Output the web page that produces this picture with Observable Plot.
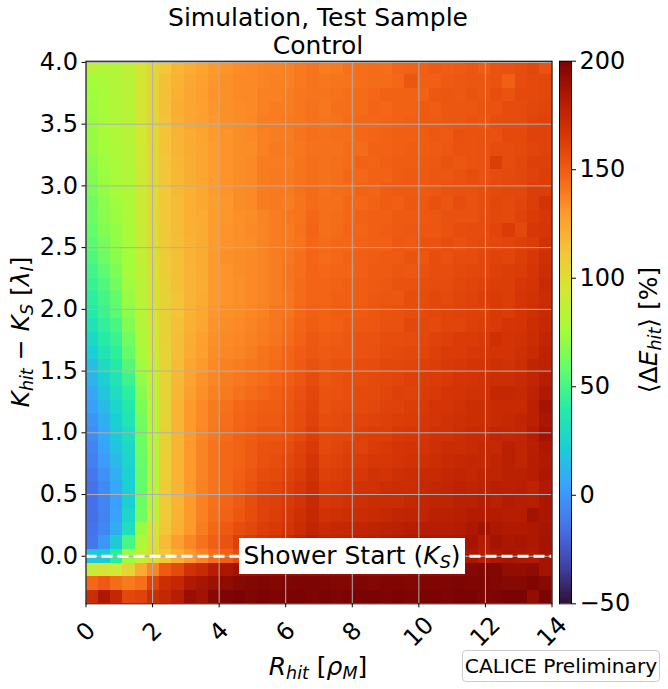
<!DOCTYPE html>
<html>
<head>
<meta charset="utf-8">
<script src="https://cdn.jsdelivr.net/npm/d3@7"></script>
<script src="https://cdn.jsdelivr.net/npm/@observablehq/plot@0.6"></script>
<style>
html,body{margin:0;padding:0;background:#fff;overflow:hidden}
#wrap{position:relative;width:668px;height:689px;font-family:"DejaVu Sans",sans-serif;color:#000}
#wrap svg{position:absolute;top:0;background:transparent;font-family:"DejaVu Sans",sans-serif}
.t{position:absolute;white-space:nowrap;line-height:1}
.t sub{font-size:70%;line-height:0;vertical-align:-0.25em}
</style>
</head>
<body>
<div id="wrap"></div>
<script>
// Mean relative energy difference per cell, rows from top (K = 4.0) to bottom (K = -0.39), 38 R bins
const r00=[85,80,80,85,95,104,110,117,121,125,129,131,133,134,136,136,137,139,141,138,139,142,143,144,143,146,147,148,150,149,150,152,149,153,154,155,158,153];
const r01=[75,78,80,83,94,104,113,119,123,126,130,132,134,134,136,137,137,139,141,140,141,141,143,144,144,145,152,148,148,150,151,152,152,153,148,156,157,158];
const r02=[74,77,80,83,95,104,113,120,124,127,131,132,134,134,137,137,138,140,141,141,142,143,144,145,147,147,147,147,151,152,151,153,152,155,153,157,157,158];
const r03=[73,77,79,83,95,104,113,121,124,126,130,132,133,134,137,138,138,140,142,140,143,143,144,146,145,147,147,150,149,152,152,152,153,153,156,156,158,159];
const r04=[72,76,79,82,94,103,112,120,124,126,129,132,133,134,138,138,139,140,142,141,142,144,145,145,146,147,148,150,150,151,152,153,152,155,156,156,159,160];
const r05=[71,76,79,82,93,103,112,118,122,125,129,131,133,134,137,138,138,141,143,142,143,143,145,146,147,148,148,149,151,150,154,153,154,154,157,157,160,160];
const r06=[71,75,78,81,93,102,112,118,122,124,128,131,133,133,137,139,139,140,142,142,142,144,144,147,147,148,149,149,150,151,153,153,154,156,156,157,159,160];
const r07=[68,74,77,81,92,102,111,117,121,124,128,131,133,134,138,138,138,141,143,142,143,144,147,146,148,149,149,150,151,153,152,153,154,162,156,158,161,161];
const r08=[66,73,76,80,91,101,111,116,121,124,128,131,133,134,138,139,139,141,143,142,143,145,145,147,147,149,150,150,152,152,153,155,154,156,157,158,160,162];
const r09=[64,71,75,79,91,100,110,116,120,123,128,131,133,134,138,139,139,142,144,142,144,144,147,146,149,150,150,150,151,153,154,154,155,157,158,158,162,162];
const r10=[61,69,74,79,90,100,110,115,120,123,127,130,133,134,138,139,138,141,144,143,143,145,145,147,149,148,151,151,154,152,155,154,155,158,157,159,162,167];
const r11=[60,68,73,78,90,101,110,115,120,122,128,130,132,133,136,138,140,141,145,143,144,145,147,148,148,150,150,151,152,154,154,154,156,158,157,160,163,165];
const r12=[58,66,71,77,89,100,109,115,120,122,128,131,132,134,136,138,139,142,146,143,144,146,146,148,149,150,151,152,152,153,155,156,156,159,163,158,165,166];
const r13=[55,63,70,76,88,100,109,114,119,122,128,131,132,133,136,138,139,141,145,144,145,145,147,148,148,151,150,153,153,155,154,156,157,158,159,161,163,168];
const r14=[52,60,68,75,87,99,108,113,119,122,129,132,133,134,136,138,140,143,146,144,145,147,148,149,150,150,153,152,155,154,156,156,158,160,159,162,165,169];
const r15=[48,56,65,75,85,98,107,113,118,122,129,131,133,134,136,138,141,143,146,145,146,146,148,150,150,152,151,154,155,155,157,158,158,161,162,163,166,170];
const r16=[45,52,62,74,84,97,106,113,118,121,129,131,132,134,136,138,141,144,146,146,147,148,149,150,151,153,153,155,156,156,158,159,160,162,162,165,167,172];
const r17=[42,49,57,72,83,97,105,112,118,122,129,131,132,134,136,138,140,144,146,146,148,148,149,151,152,152,155,156,158,157,159,160,162,163,162,166,168,171];
const r18=[38,47,55,69,82,96,105,112,119,123,130,132,133,135,137,140,141,145,148,147,149,149,150,152,153,154,155,157,158,159,160,161,161,164,163,166,169,172];
const r19=[33,43,50,66,80,95,105,113,120,124,131,133,134,136,138,140,143,146,149,147,148,150,151,152,154,154,158,158,157,159,159,161,162,164,166,167,170,173];
const r20=[27,39,46,62,79,94,105,114,121,126,132,134,135,137,139,141,144,147,151,149,150,151,153,153,155,155,156,158,160,161,163,163,164,169,167,168,171,175];
const r21=[21,34,42,58,76,92,104,114,122,127,133,135,136,138,141,143,146,149,152,150,151,151,153,154,156,157,158,159,161,163,163,165,165,167,167,169,172,177];
const r22=[15,28,38,53,74,90,104,115,124,129,134,137,138,140,142,144,147,150,154,151,153,153,155,156,158,158,159,161,162,164,165,167,167,169,168,170,176,177];
const r23=[11,22,34,47,70,88,104,116,125,131,135,138,140,142,144,146,149,152,156,152,153,155,155,157,158,159,161,162,163,164,166,167,168,170,170,172,175,180];
const r24=[5,18,30,41,67,87,104,117,127,132,137,139,142,144,146,148,151,154,158,153,154,155,157,157,159,161,160,163,164,166,167,168,168,174,174,173,177,182];
const r25=[2,13,25,37,65,85,103,118,129,134,139,142,145,147,149,149,152,155,159,154,155,156,157,158,160,160,162,164,166,166,168,170,170,172,172,172,178,186];
const r26=[-2,9,22,34,62,84,104,118,129,134,139,143,146,148,150,150,153,156,160,155,156,158,159,160,161,162,163,165,166,168,169,170,170,172,173,175,178,184];
const r27=[-5,6,20,30,61,83,105,118,129,135,140,144,147,149,152,152,154,157,162,157,158,158,161,162,162,164,165,166,168,168,170,172,172,175,174,175,180,187];
const r28=[-8,4,17,27,60,83,105,118,129,136,141,145,147,150,153,154,156,160,164,157,159,161,160,163,164,166,167,167,169,171,171,172,174,173,178,176,179,183];
const r29=[-10,1,13,25,59,82,106,118,129,136,141,145,147,150,154,155,158,161,166,159,160,162,163,165,165,166,168,169,170,172,173,174,173,176,178,176,180,182];
const r30=[-13,-3,9,23,58,82,106,118,129,136,141,145,148,152,156,157,160,163,168,161,162,164,165,168,167,169,170,172,172,174,175,174,176,176,178,178,180,183];
const r31=[-15,-6,6,22,58,83,107,118,129,137,141,145,149,153,158,159,162,165,170,163,164,165,168,168,170,171,170,173,174,175,177,176,177,179,178,179,177,182];
const r32=[-16,-8,3,22,60,85,108,118,129,137,142,146,150,155,160,161,164,167,172,165,166,168,169,171,171,171,173,175,176,176,178,178,180,178,181,180,179,184];
const r33=[-16,-9,4,25,62,86,108,119,129,137,143,147,152,156,160,162,165,169,173,168,169,170,171,172,173,175,176,176,178,178,179,181,181,181,180,180,187,184];
const r34=[-15,-7,8,30,72,95,110,120,129,138,145,150,155,158,162,164,167,171,175,172,174,174,175,176,177,178,180,180,180,180,181,183,187,183,182,182,183,185];
const r35=[-14,-1,20,50,80,97,115,127,135,142,148,153,161,163,166,168,172,175,180,175,176,177,178,178,180,182,182,183,183,183,184,186,181,186,184,185,183,186];
const r36=[18,20,40,72,88,100,110,120,129,136,143,148,155,160,164,167,170,172,175,176,176,178,179,180,180,181,182,182,183,182,183,184,180,183,185,184,182,186];
const r37=[88,95,92,103,122,135,150,157,168,172,180,184,187,188,189,190,190,190,190,190,190,191,191,191,191,191,192,192,192,192,193,196,197,197,192,192,193,186];
const r38=[145,150,144,139,143,160,170,174,182,185,189,193,196,197,198,197,198,199,199,198,197,197,198,197,198,198,197,198,198,198,199,198,198,197,196,196,198,195];
const r39=[171,183,174,158,160,170,174,180,191,187,196,199,200,198,200,199,200,200,199,200,199,200,200,200,199,200,199,200,200,199,200,200,198,199,200,200,192,200];
const rows=[r00,r01,r02,r03,r04,r05,r06,r07,r08,r09,r10,r11,r12,r13,r14,r15,r16,r17,r18,r19,r20,r21,r22,r23,r24,r25,r26,r27,r28,r29,r30,r31,r32,r33,r34,r35,r36,r37,r38,r39];

const xTicks=[0,2,4,6,8,10,12,14];
const yTicks=[0,0.5,1,1.5,2,2.5,3,3.5,4];
const colorTicks=[-50,0,50,100,150,200];
const xDomain=[0,14];
const yDomain=[-0.385,4.01];
const colorDomain=[-50,200];
const turbo=["#30123b","#4145ab","#4675ed","#39a2fc","#1bcfd4","#24eca6","#61fc6c","#a4fc3b","#d1e834","#f3c63a","#fe9b2d","#f36315","#d93806","#b11901","#7a0403"];
const interpolateTurbo=d3.piecewise(d3.interpolateRgb,turbo);

const nCols=rows[0].length, nRows=rows.length;
const dx=(xDomain[1]-xDomain[0])/nCols, dy=(yDomain[1]-yDomain[0])/nRows;
const cells=rows.flatMap((row,r)=>row.map((v,c)=>({x1:c*dx,x2:(c+1)*dx,y1:yDomain[1]-r*dy,y2:yDomain[1]-(r+1)*dy,v})));

const fs=24;
const colorOpt={type:"linear",domain:colorDomain,interpolate:interpolateTurbo};
const main=Plot.plot({
  width:668,height:689,
  marginLeft:85.5,marginRight:116.5,marginTop:60.7,marginBottom:85.7,
  style:{background:"transparent",fontFamily:"DejaVu Sans"},
  x:{domain:xDomain},y:{domain:yDomain},color:colorOpt,
  marks:[
    Plot.rect(cells,{x1:"x1",x2:"x2",y1:"y1",y2:"y2",fill:"v",shapeRendering:"crispEdges"}),
    Plot.gridX(xTicks,{stroke:"#b0b0b0",strokeOpacity:1,strokeWidth:1}),
    Plot.gridY(yTicks,{stroke:"#b0b0b0",strokeOpacity:1,strokeWidth:1}),
    Plot.ruleY([0],{stroke:"white",strokeWidth:3,strokeDasharray:"11,5"}),
    Plot.frame({stroke:"#000",strokeWidth:1}),
    Plot.axisX({ticks:xTicks,label:null,tickSize:4,fontSize:fs,tickRotate:-45,textAnchor:"middle",lineAnchor:"middle",tickPadding:24,tickFormat:d=>d}),
    Plot.axisY({ticks:yTicks,label:null,tickSize:4,fontSize:fs,tickPadding:4,tickFormat:d3.format(".1f")})
  ]
});
main.style.left="0px";

const levels=d3.range(colorDomain[0],colorDomain[1],1);
const bar=Plot.plot({
  width:109,height:689,
  marginLeft:0,marginRight:97,marginTop:60.7,marginBottom:85.7,
  style:{background:"transparent",fontFamily:"DejaVu Sans"},
  x:{domain:[0,1],axis:null},y:{domain:colorDomain},color:colorOpt,
  marks:[
    Plot.rect(levels,{x1:0,x2:1,y1:d=>d,y2:d=>d+1,fill:d=>d,shapeRendering:"crispEdges"}),
    Plot.frame({stroke:"#000",strokeWidth:1}),
    Plot.axisY({anchor:"right",ticks:colorTicks,label:null,tickSize:4,fontSize:fs,tickPadding:4})
  ]
});
bar.style.left="559px";

const wrap=document.getElementById("wrap");
wrap.append(main,bar);
function add(html,css){const d=document.createElement("div");d.className="t";d.innerHTML=html;d.style.cssText=css;wrap.append(d);return d;}
add("Simulation, Test Sample","left:318px;top:5px;font-size:25px;transform:translateX(-50%)");
add("Control","left:318px;top:33px;font-size:25px;transform:translateX(-50%)");
add("<i>R<sub>hit</sub></i> [<i>ρ<sub>M</sub></i>]","left:318px;top:654px;font-size:25px;transform:translateX(-50%)");
add("<i>K<sub>hit</sub></i> − <i>K<sub>S</sub></i> [<i>λ<sub>I</sub></i>]","left:20px;top:332px;font-size:25px;transform:translate(-50%,-50%) rotate(-90deg)");
add("⟨Δ<i>E<sub>hit</sub></i>⟩ [%]","left:648px;top:330px;font-size:25px;transform:translate(-50%,-50%) rotate(-90deg)");
add("Shower Start (<i>K<sub>S</sub></i>)","left:239px;top:538px;width:226px;height:36px;background:#fff;font-size:25px;text-align:center;line-height:36px");
add("CALICE Preliminary","left:462px;top:650px;width:196px;height:30px;background:#fff;border:1px solid #ccc;border-radius:4px;font-size:20.2px;text-align:center;line-height:30px");
</script>
</body>
</html>
